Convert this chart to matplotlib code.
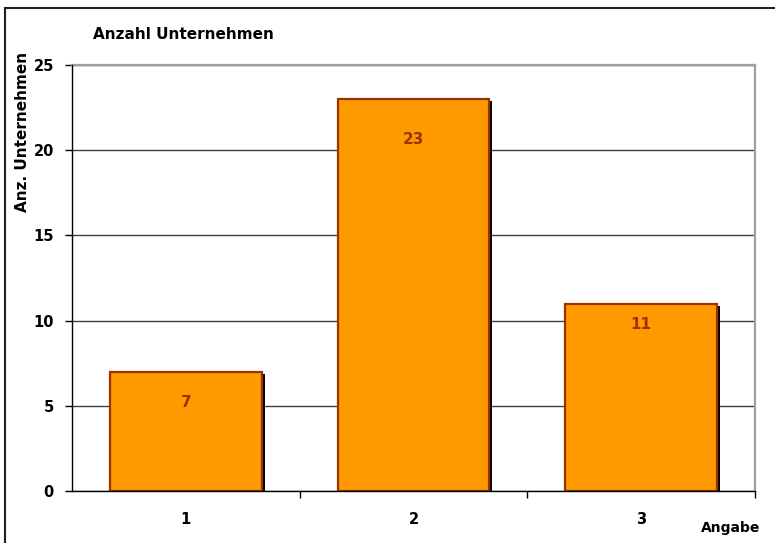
import matplotlib.pyplot as plt
import matplotlib.patheffects as pe
from matplotlib.patches import Rectangle
from matplotlib.ticker import FixedLocator

# Anzahl Unternehmen je Angabe
angaben = ["1", "2", "3"]
anzahl = [7, 23, 11]
yticks = [0, 5, 10, 15, 20, 25]
label_dy = [-22, -29, -15]  # Abstand der Werte unter der Balkenoberkante (pt)

plt.rcParams['font.family'] = 'DejaVu Sans'
plt.rcParams['font.weight'] = 'bold'

fig = plt.figure(figsize=(7.75, 5.43), dpi=100)
ax = fig.add_axes([72/775, 52/543, 683/775, 426/543])

x = list(range(1, len(angaben) + 1))
bars = ax.bar(x, anzahl, width=0.667, color='#FF9900', edgecolor='#993300',
              linewidth=1.6, zorder=3)
for b in bars:
    b.set_path_effects([pe.SimplePatchShadow(offset=(2.2, -1.6), shadow_rgbFace='black', alpha=1),
                        pe.Normal()])

for xi, v, dy in zip(x, anzahl, label_dy):
    ax.annotate(str(v), (xi, v), xytext=(0, dy), textcoords='offset points',
                ha='center', va='center', color='#993300', fontsize=11, zorder=4)

ax.set_xlim(0.5, len(angaben) + 0.5)
ax.set_ylim(0, 25)
ax.set_yticks(yticks)
ax.set_xticks(x)
ax.set_xticklabels(angaben)
ax.xaxis.set_minor_locator(FixedLocator([1.5, 2.5, 3.5]))
ax.tick_params(axis='x', which='major', length=0, pad=15, labelsize=10.5)
ax.tick_params(axis='x', which='minor', length=5, width=1, direction='out', color='black')
ax.tick_params(axis='y', length=5, width=1, direction='out', pad=8, labelsize=10.5)

ax.grid(axis='y', color='#404040', linewidth=1, zorder=0)
ax.set_axisbelow(True)
for s in ['top', 'right']:
    ax.spines[s].set_color('#a0a0a0')
    ax.spines[s].set_linewidth(1.6)
for s in ['left', 'bottom']:
    ax.spines[s].set_color('black')
    ax.spines[s].set_linewidth(1)
    ax.spines[s].set_zorder(5)

fig.text(93/775, 1 - 35/543, "Anzahl Unternehmen", ha='left', va='center', fontsize=11)
fig.text(23/775, 1 - 132/543, "Anz. Unternehmen", ha='center', va='center',
         rotation=90, fontsize=11)
fig.text(760/775, 1 - 528/543, "Angabe", ha='right', va='center', fontsize=10)

# Rahmen um das Diagramm
fig.add_artist(Rectangle((5/775, -0.1), 1.2, 1 - 8/543 + 0.1, transform=fig.transFigure,
                         fill=False, edgecolor='#202020', linewidth=1.5))

fig.savefig('out.png', dpi=100)
